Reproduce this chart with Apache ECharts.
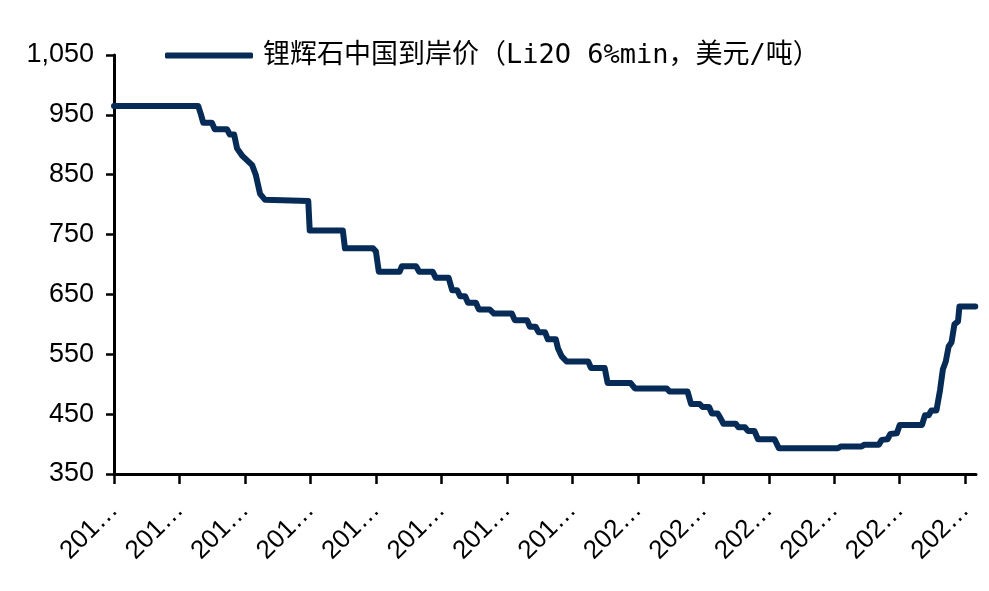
<!DOCTYPE html>
<html>
<head>
<meta charset="utf-8">
<script src="https://cdn.jsdelivr.net/npm/echarts@6/dist/echarts.min.js"></script>
<style>
html,body{margin:0;padding:0;background:#fff;}
#chart{width:989px;height:591px;}
</style>
</head>
<body>
<div id="chart"></div>
<script>
// Series name
const seriesName = '锂辉石中国到岸价（Li2O 6%min，美元/吨）';
// x position (days from start) of each breakpoint
const days = [0,117,121,124,136,140,157,161,167,171,178,185,192,197,203,210,270,272,318,321,360,364,368,397,400,420,424,443,447,465,470,477,481,488,492,503,507,522,528,553,557,574,578,586,590,599,603,614,617,622,629,659,663,682,686,718,724,768,772,797,802,814,818,827,831,839,843,847,864,868,877,881,890,895,918,924,1006,1010,1039,1043,1063,1067,1075,1079,1088,1092,1123,1127,1132,1136,1143,1148,1152,1156,1160,1164,1168,1173,1175,1197];
// price (USD/t) at each breakpoint
const prices = [965,965,950,937,937,926,926,917,917,894,882,874,866,850,818,808,806,757,757,727,727,722,688,688,697,697,688,688,678,678,657,657,647,647,636,636,625,625,618,618,607,607,596,596,587,587,575,575,560,547,538,538,527,527,502,502,493,493,488,488,467,467,462,462,451,451,443,434,434,428,428,422,422,408,408,393,393,396,396,399,399,407,408,417,418,432,432,448,448,456,456,490,525,538,563,570,600,605,630,630];
// x-axis tick labels (one per quarter tick)
const xTickLabels = ['201…','201…','201…','201…','201…','201…','201…','201…','202…','202…','202…','202…','202…','202…'];
const xTickStep = 91;
const xMax = 1198;
// y-axis ticks
const yTicks = [350,450,550,650,750,850,950,1050];

const data = days.map((d, i) => [d, prices[i]]);
const xTickValues = xTickLabels.map((_, i) => i * xTickStep);

const chart = echarts.init(document.getElementById('chart'), null, {renderer: 'canvas'});
const axisFont = {fontFamily: 'Liberation Sans, Arial, sans-serif', fontSize: 27, color: '#000'};
chart.setOption({
  animation: false,
  backgroundColor: '#fff',
  grid: {left: 114, right: 13, top: 55, bottom: 117, containLabel: false},
  legend: {
    show: true,
    left: 160,
    top: 37,
    icon: 'roundRect',
    itemWidth: 88,
    itemHeight: 6,
    textStyle: {fontFamily: 'DejaVu Sans Mono, Noto Sans CJK SC, sans-serif', fontSize: 27, color: '#000', padding: [0,0,0,5]},
    data: [seriesName]
  },
  xAxis: {
    type: 'value',
    min: 0,
    max: xMax,
    splitLine: {show: false},
    axisLine: {show: true, onZero: false, lineStyle: {color: '#000', width: 3}},
    axisTick: {show: true, length: 10, inside: false, lineStyle: {color: '#000', width: 2.5}, customValues: xTickValues},
    axisLabel: {
      show: true, rotate: 45, margin: 32, ...axisFont, fontSize: 26,
      customValues: xTickValues,
      formatter: v => xTickLabels[Math.round(v / xTickStep)]
    }
  },
  yAxis: {
    type: 'value',
    min: 350,
    max: 1050,
    splitLine: {show: false},
    axisLine: {show: true, lineStyle: {color: '#000', width: 3}},
    axisTick: {show: true, length: 8, lineStyle: {color: '#000', width: 2.5}, customValues: yTicks},
    axisLabel: {
      show: true, margin: 20, ...axisFont,
      customValues: yTicks,
      formatter: v => String(v).replace(/\B(?=(\d{3})+(?!\d))/g, ',')
    }
  },
  series: [{
    name: seriesName,
    type: 'line',
    data: data,
    symbol: 'none',
    smooth: false,
    itemStyle: {color: '#062b57'},
    lineStyle: {color: '#062b57', width: 6, cap: 'round', join: 'round'}
  }]
});
</script>
</body>
</html>
